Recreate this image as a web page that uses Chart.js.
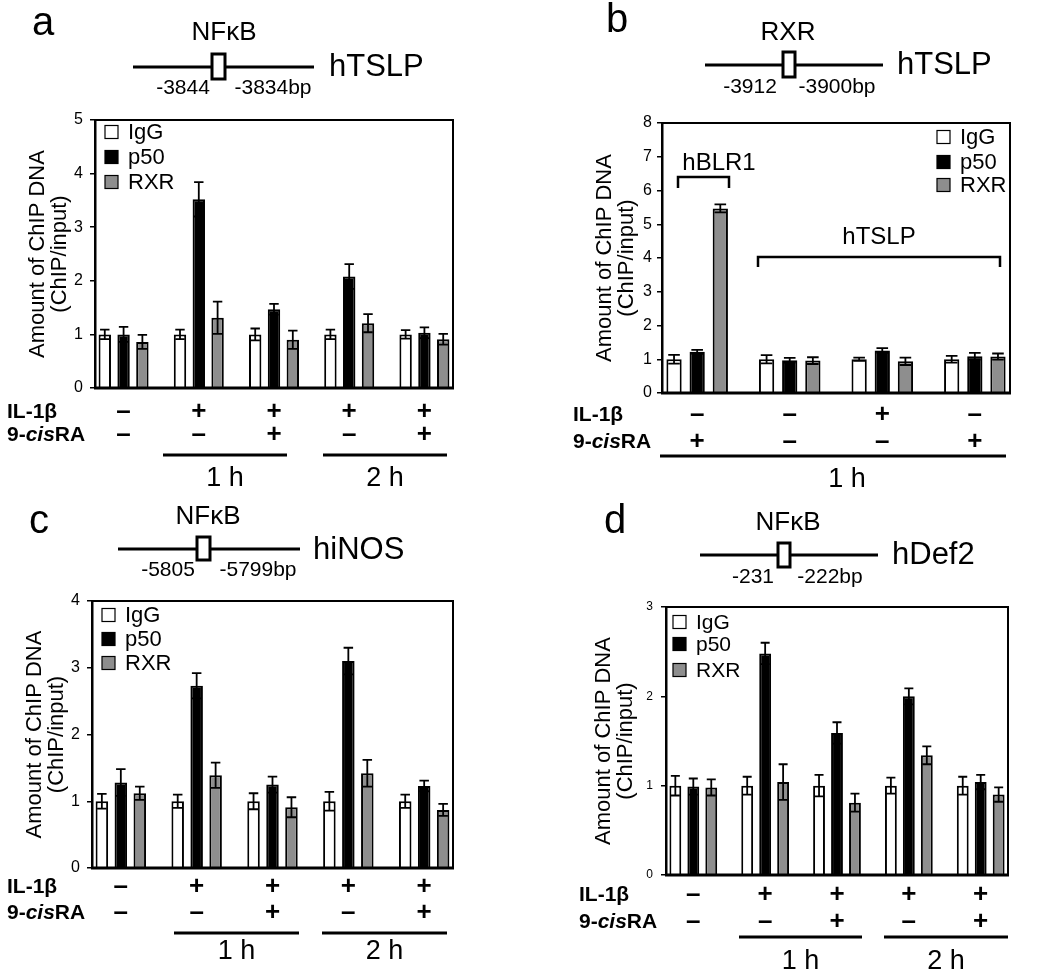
<!DOCTYPE html>
<html lang="en">
<head>
<meta charset="UTF-8">
<title>ChIP assays</title>
<style>
  body { margin: 0; background: #fff; width: 1050px; height: 975px; overflow: hidden; }
  .panel { position: absolute; }
</style>
</head>
<body>

<div class="panel" style="left:0px;top:0px"><canvas id="chartA"></canvas></div>
<div class="panel" style="left:520px;top:0px"><canvas id="chartB"></canvas></div>
<div class="panel" style="left:0px;top:490px"><canvas id="chartC"></canvas></div>
<div class="panel" style="left:520px;top:495px"><canvas id="chartD"></canvas></div>

<script src="https://cdn.jsdelivr.net/npm/chart.js"></script>
<script>
// series shown in every panel
const seriesNames = ['IgG', 'p50', 'RXR'];
const fills = ['#ffffff', '#000000', '#8e8e8e'];

// a - hTSLP, NFkB site
const aIL1b = ['-', '+', '+', '+', '+'];
const aRA = ['-', '-', '+', '-', '+'];
const aIgG = [1, 1, 1, 1, 1];
const aIgGErr = [0.09, 0.09, 0.11, 0.09, 0.08];
const aP50 = [1.0, 3.52, 1.47, 2.08, 1.03];
const aP50Err = [0.14, 0.32, 0.1, 0.23, 0.1];
const aRXR = [0.86, 1.31, 0.9, 1.21, 0.91];
const aRXRErr = [0.13, 0.3, 0.17, 0.17, 0.1];

// b - hTSLP, RXR site (first group is hBLR1)
const bIL1b = ['-', '-', '+', '-'];
const bRA = ['+', '-', '-', '+'];
const bIgG = [1, 1, 1, 1];
const bIgGErr = [0.13, 0.12, 0.05, 0.1];
const bP50 = [1.22, 0.97, 1.26, 1.09];
const bP50Err = [0.06, 0.07, 0.07, 0.1];
const bRXR = [5.47, 0.96, 0.94, 1.08];
const bRXRErr = [0.12, 0.1, 0.11, 0.09];

// c - hiNOS
const cIL1b = ['-', '+', '+', '+', '+'];
const cRA = ['-', '-', '+', '-', '+'];
const cIgG = [1, 1, 1, 1, 1];
const cIgGErr = [0.11, 0.1, 0.12, 0.14, 0.1];
const cP50 = [1.28, 2.73, 1.25, 3.1, 1.23];
const cP50Err = [0.2, 0.19, 0.12, 0.2, 0.08];
const cRXR = [1.12, 1.39, 0.91, 1.42, 0.87];
const cRXRErr = [0.1, 0.19, 0.15, 0.2, 0.09];

// d - hDef2
const dIL1b = ['-', '+', '+', '+', '+'];
const dRA = ['-', '-', '+', '-', '+'];
const dIgG = [1, 1, 1, 1, 1];
const dIgGErr = [0.11, 0.1, 0.12, 0.09, 0.1];
const dP50 = [0.99, 2.48, 1.59, 2.0, 1.04];
const dP50Err = [0.09, 0.12, 0.12, 0.09, 0.08];
const dRXR = [0.98, 1.04, 0.81, 1.34, 0.9];
const dRXRErr = [0.09, 0.2, 0.1, 0.1, 0.08];

const yTitle = ['Amount of ChIP DNA', '(ChIP/input)'];
const FONT = '"Liberation Sans", Arial, sans-serif';

// where each panel sits on the page (page pixels)
const layoutA = {
    id: 'chartA', left: 0, top: 0, width: 520, height: 490,
    plot: { left: 95, top: 120, right: 453, bottom: 388 },
    yAxisWidth: 70, yMax: 5, tickFont: 16, tickPad: 7, legendFont: 22,
    letter: { text: 'a', x: 43, y: 35 },
    site: { text: 'NFκB', x: 224, y: 33 },
    line: { x1: 133, x2: 314, y: 67 },
    box: { x: 212, y: 54, w: 13, h: 25 },
    coords: [{ text: '-3844', x: 183 }, { text: '-3834bp', x: 273 }], coordY: 88,
    gene: { text: 'hTSLP', x: 329, y: 67 },
    legend: { x: 105, text: 128, rows: [132, 157, 182] },
    rows: { label: 7, il: 412, ra: 435 },
    spans: [{ x1: 163, x2: 287, text: '1 h' }, { x1: 323, x2: 447, text: '2 h' }],
    spanY: 455, spanTextY: 479,
    brackets: []
};
const layoutB = {
    id: 'chartB', left: 520, top: 0, width: 530, height: 500,
    plot: { left: 662, top: 123, right: 1010, bottom: 393 },
    yAxisWidth: 70, yMax: 8, tickFont: 16, tickPad: 5, legendFont: 22,
    letter: { text: 'b', x: 617, y: 32 },
    site: { text: 'RXR', x: 788, y: 33 },
    line: { x1: 705, x2: 883, y: 65 },
    box: { x: 783, y: 52, w: 12, h: 25 },
    coords: [{ text: '-3912', x: 750 }, { text: '-3900bp', x: 837 }], coordY: 87,
    gene: { text: 'hTSLP', x: 897, y: 65 },
    legend: { x: 937, text: 960, rows: [137, 162, 185] },
    rows: { label: 573, il: 415, ra: 442 },
    spans: [{ x1: 660, x2: 1006, text: '1 h', tx: 847 }],
    spanY: 456, spanTextY: 480,
    brackets: [
        { text: 'hBLR1', tx: 719, ty: 163, x1: 678, x2: 729, y: 177, drop: 11 },
        { text: 'hTSLP', tx: 879, ty: 237, x1: 758, x2: 1000, y: 257, drop: 10 }
    ]
};
const layoutC = {
    id: 'chartC', left: 0, top: 490, width: 520, height: 485,
    plot: { left: 92, top: 601, right: 453, bottom: 868 },
    yAxisWidth: 70, yMax: 4, tickFont: 16, tickPad: 7, legendFont: 22,
    letter: { text: 'c', x: 39, y: 533 },
    site: { text: 'NFκB', x: 208, y: 517 },
    line: { x1: 118, x2: 300, y: 549 },
    box: { x: 197, y: 537, w: 13, h: 23 },
    coords: [{ text: '-5805', x: 168 }, { text: '-5799bp', x: 258 }], coordY: 570,
    gene: { text: 'hiNOS', x: 313, y: 550 },
    legend: { x: 102, text: 125, rows: [615, 639, 663] },
    rows: { label: 7, il: 887, ra: 913 },
    spans: [{ x1: 174, x2: 299, text: '1 h' }, { x1: 322, x2: 447, text: '2 h' }],
    spanY: 933, spanTextY: 952,
    brackets: []
};
const layoutD = {
    id: 'chartD', left: 520, top: 495, width: 530, height: 480,
    plot: { left: 666, top: 607, right: 1008, bottom: 875 },
    yAxisWidth: 75, yMax: 3, tickFont: 12, tickPad: 8, legendFont: 21,
    letter: { text: 'd', x: 615, y: 533 },
    site: { text: 'NFκB', x: 788, y: 523 },
    line: { x1: 700, x2: 878, y: 555 },
    box: { x: 778, y: 543, w: 12, h: 24 },
    coords: [{ text: '-231', x: 753 }, { text: '-222bp', x: 830 }], coordY: 577,
    gene: { text: 'hDef2', x: 892, y: 555 },
    legend: { x: 673, text: 696, rows: [622, 644, 670] },
    rows: { label: 579, il: 895, ra: 922 },
    spans: [{ x1: 739, x2: 862, text: '1 h' }, { x1: 884, x2: 1008, text: '2 h' }],
    spanY: 937, spanTextY: 962,
    brackets: []
};

// error bars (mean +/- err), drawn over the bars
const errorBars = {
    id: 'errorBars',
    afterDatasetsDraw(chart) {
        const ctx = chart.ctx;
        const yScale = chart.scales.y;
        ctx.save();
        ctx.strokeStyle = '#000';
        ctx.lineWidth = 1.8;
        chart.data.datasets.forEach((ds, di) => {
            chart.getDatasetMeta(di).data.forEach((bar, i) => {
                const v = ds.data[i].y, e = ds.errors[i];
                const t = yScale.getPixelForValue(v + e);
                const b = yScale.getPixelForValue(v - e);
                const w = bar.width * 0.38;
                ctx.beginPath();
                ctx.moveTo(bar.x, t); ctx.lineTo(bar.x, b);
                ctx.moveTo(bar.x - w, t); ctx.lineTo(bar.x + w, t);
                ctx.moveTo(bar.x - w, b); ctx.lineTo(bar.x + w, b);
                ctx.stroke();
            });
        });
        ctx.restore();
    }
};

function drawRA(ctx, x, y, size) {
    const parts = [['9-', 'bold'], ['cis', 'italic bold'], ['RA', 'bold']];
    parts.forEach(([t, w]) => {
        ctx.font = w + ' ' + size + 'px ' + FONT;
        ctx.fillText(t, x, y);
        x += ctx.measureText(t).width;
    });
}

// frame, legend, promoter sketch, treatment rows
function decorPlugin(L, il1b, ra) {
    return {
        id: 'decor',
        afterDraw(chart) {
            const ctx = chart.ctx;
            const X = v => v - L.left, Y = v => v - L.top;
            const area = chart.chartArea;
            ctx.save();
            ctx.strokeStyle = '#000';
            ctx.fillStyle = '#000';

            // plot frame
            ctx.lineWidth = 2;
            ctx.strokeRect(area.left, area.top, area.right - area.left, area.bottom - area.top);
            ctx.lineWidth = 3;
            ctx.beginPath();
            ctx.moveTo(area.left - 1, area.bottom); ctx.lineTo(area.right + 1, area.bottom);
            ctx.stroke();

            // legend
            ctx.textBaseline = 'middle';
            ctx.textAlign = 'left';
            ctx.font = L.legendFont + 'px ' + FONT;
            chart.data.datasets.forEach((ds, k) => {
                const ry = Y(L.legend.rows[k]);
                ctx.fillStyle = ds.backgroundColor;
                ctx.fillRect(X(L.legend.x), ry - 6.5, 13, 13);
                ctx.lineWidth = 1.2;
                ctx.strokeRect(X(L.legend.x), ry - 6.5, 13, 13);
                ctx.fillStyle = '#000';
                ctx.fillText(ds.label, X(L.legend.text), ry + 1);
            });

            // panel letter
            ctx.textAlign = 'center';
            ctx.textBaseline = 'alphabetic';
            ctx.font = '40px ' + FONT;
            ctx.fillText(L.letter.text, X(L.letter.x), Y(L.letter.y));

            // promoter sketch
            ctx.textBaseline = 'middle';
            ctx.font = '26px ' + FONT;
            ctx.fillText(L.site.text, X(L.site.x), Y(L.site.y));
            ctx.lineWidth = 3;
            ctx.beginPath();
            ctx.moveTo(X(L.line.x1), Y(L.line.y)); ctx.lineTo(X(L.line.x2), Y(L.line.y));
            ctx.stroke();
            ctx.fillStyle = '#fff';
            ctx.fillRect(X(L.box.x), Y(L.box.y), L.box.w, L.box.h);
            ctx.strokeRect(X(L.box.x), Y(L.box.y), L.box.w, L.box.h);
            ctx.fillStyle = '#000';
            ctx.font = '21px ' + FONT;
            L.coords.forEach(c => ctx.fillText(c.text, X(c.x), Y(L.coordY)));
            ctx.textAlign = 'left';
            ctx.font = '31px ' + FONT;
            ctx.fillText(L.gene.text, X(L.gene.x), Y(L.gene.y));

            // brackets (panel b)
            L.brackets.forEach(b => {
                ctx.textAlign = 'center';
                ctx.font = '24px ' + FONT;
                ctx.fillText(b.text, X(b.tx), Y(b.ty));
                ctx.lineWidth = 2.5;
                ctx.beginPath();
                ctx.moveTo(X(b.x1), Y(b.y + b.drop));
                ctx.lineTo(X(b.x1), Y(b.y));
                ctx.lineTo(X(b.x2), Y(b.y));
                ctx.lineTo(X(b.x2), Y(b.y + b.drop));
                ctx.stroke();
            });

            // treatment rows
            ctx.textAlign = 'left';
            ctx.font = 'bold 21px ' + FONT;
            ctx.fillText('IL-1β', X(L.rows.label), Y(L.rows.il));
            drawRA(ctx, X(L.rows.label), Y(L.rows.ra), 21);
            const xs = chart.scales.x;
            ctx.textAlign = 'center';
            ctx.font = 'bold 26px ' + FONT;
            il1b.forEach((s, i) => {
                const px = xs.getPixelForValue(i);
                ctx.fillText(s === '+' ? '+' : '–', px, Y(L.rows.il));
                ctx.fillText(ra[i] === '+' ? '+' : '–', px, Y(L.rows.ra));
            });

            // time spans
            ctx.lineWidth = 3;
            ctx.font = '27px ' + FONT;
            L.spans.forEach(s => {
                ctx.beginPath();
                ctx.moveTo(X(s.x1), Y(L.spanY)); ctx.lineTo(X(s.x2), Y(L.spanY));
                ctx.stroke();
                const tx = s.tx !== undefined ? s.tx : (s.x1 + s.x2) / 2;
                ctx.fillText(s.text, X(tx), Y(L.spanTextY));
            });
            ctx.restore();
        }
    };
}

function makeChart(L, il1b, ra, igg, iggErr, p50, p50Err, rxr, rxrErr) {
    const canvas = document.getElementById(L.id);
    canvas.width = L.width;
    canvas.height = L.height;
    const n = il1b.length;
    const sets = [[igg, iggErr], [p50, p50Err], [rxr, rxrErr]].map(([vals, errs], k) => ({
        label: seriesNames[k],
        data: vals.map((v, i) => ({ x: i, y: v })),
        errors: errs,
        backgroundColor: fills[k],
        borderColor: '#000',
        borderWidth: 2,
        categoryPercentage: 0.75,
        barPercentage: 0.66
    }));
    return new Chart(canvas, {
        type: 'bar',
        data: { datasets: sets },
        options: {
            responsive: false,
            animation: false,
            events: [],
            layout: {
                padding: {
                    left: L.plot.left - L.left - L.yAxisWidth,
                    top: L.plot.top - L.top,
                    right: L.left + L.width - L.plot.right,
                    bottom: L.top + L.height - L.plot.bottom
                }
            },
            plugins: { legend: { display: false }, tooltip: { enabled: false } },
            scales: {
                x: {
                    type: 'linear', display: false, offset: false,
                    min: -0.38, max: n - 1 + 0.38,
                    ticks: { stepSize: 1, includeBounds: false }
                },
                y: {
                    min: 0, max: L.yMax,
                    afterFit: s => { s.width = L.yAxisWidth; },
                    border: { display: true, color: '#000', width: 2.5 },
                    grid: { drawOnChartArea: false, drawTicks: true, tickLength: 5, color: '#000', lineWidth: 1.5 },
                    ticks: { stepSize: 1, color: '#000', padding: L.tickPad, font: { family: FONT, size: L.tickFont } },
                    title: {
                        display: true, text: yTitle, color: '#000',
                        padding: { top: 2, bottom: 0 },
                        font: { family: FONT, size: 22, lineHeight: 1 }
                    }
                }
            }
        },
        plugins: [errorBars, decorPlugin(L, il1b, ra)]
    });
}

makeChart(layoutA, aIL1b, aRA, aIgG, aIgGErr, aP50, aP50Err, aRXR, aRXRErr);
makeChart(layoutB, bIL1b, bRA, bIgG, bIgGErr, bP50, bP50Err, bRXR, bRXRErr);
makeChart(layoutC, cIL1b, cRA, cIgG, cIgGErr, cP50, cP50Err, cRXR, cRXRErr);
makeChart(layoutD, dIL1b, dRA, dIgG, dIgGErr, dP50, dP50Err, dRXR, dRXRErr);
</script>
</body>
</html>
